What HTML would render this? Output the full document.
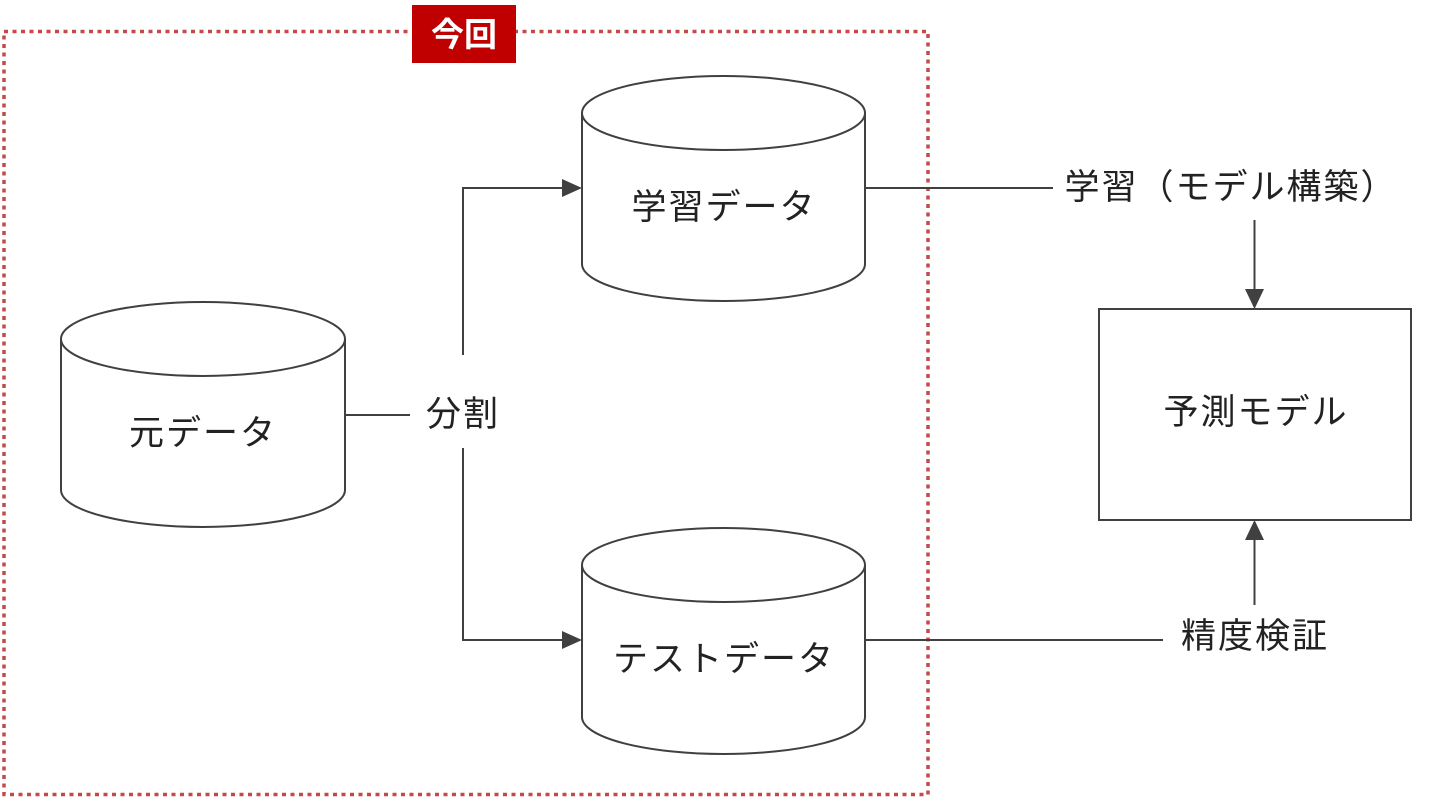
<!DOCTYPE html>
<html><head><meta charset="utf-8"><style>
html,body{margin:0;padding:0;background:#fff;}
svg{display:block;}
text{font-family:"Liberation Sans","Noto Sans CJK JP",sans-serif;}
</style></head><body>
<svg width="1430" height="798" viewBox="0 0 1430 798" xmlns="http://www.w3.org/2000/svg">
<rect x="4" y="31.5" width="924" height="763" fill="none" stroke="#c44a4a" stroke-width="3.5" stroke-dasharray="4,4.5"/>
<rect x="412" y="5" width="104" height="58" fill="#c00000"/>
<text x="464" y="46" font-size="33" font-weight="bold" fill="#fff" text-anchor="middle">今回</text>

<g fill="#fff" stroke="#404040" stroke-width="2">
<path d="M61,339 V490 A142,37 0 0 0 345,490 V339"/>
<ellipse cx="203" cy="339" rx="142" ry="37"/>
<path d="M582,113 V264 A141.5,37 0 0 0 865,264 V113"/>
<ellipse cx="723.5" cy="113" rx="141.5" ry="37"/>
<path d="M582,565 V717 A141.5,37 0 0 0 865,717 V565"/>
<ellipse cx="723.5" cy="565" rx="141.5" ry="37"/>
<rect x="1099" y="309" width="312" height="211"/>
</g>

<g stroke="#404040" stroke-width="2" fill="none">
<line x1="345" y1="415" x2="410" y2="415"/>
<polyline points="463,355 463,188 562,188"/>
<polyline points="463,448 463,640 562,640"/>
<line x1="865" y1="188" x2="1053" y2="188"/>
<line x1="1254.5" y1="220" x2="1254.5" y2="290"/>
<line x1="865" y1="640" x2="1163" y2="640"/>
<line x1="1254.5" y1="605" x2="1254.5" y2="540"/>
</g>
<g fill="#404040">
<path d="M562,179 L582,188 L562,197 Z"/>
<path d="M562,631 L582,640 L562,649 Z"/>
<path d="M1245,289 L1254.5,309 L1264,289 Z"/>
<path d="M1245,540 L1254.5,520 L1264,540 Z"/>
</g>

<g font-size="35" fill="#222" text-anchor="middle" letter-spacing="2">
<text x="203" y="445">元データ</text>
<text x="724" y="219">学習データ</text>
<text x="724" y="671">テストデータ</text>
<text x="463" y="426">分割</text>
<text x="1231" y="199">学習（モデル構築）</text>
<text x="1256" y="424">予測モデル</text>
<text x="1255" y="648">精度検証</text>
</g>
</svg>
</body></html>
